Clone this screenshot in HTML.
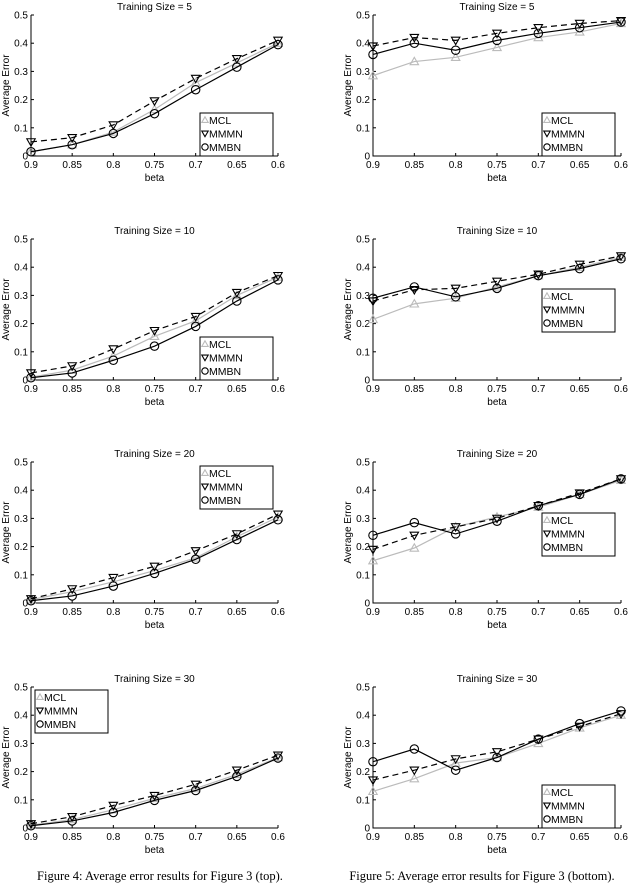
<!DOCTYPE html>
<html><head><meta charset="utf-8"><style>
body{margin:0;background:#fff}
svg{display:block;font-family:"Liberation Sans",sans-serif}
</style></head><body>
<svg id="fig" width="640" height="890" viewBox="0 0 640 890" xmlns="http://www.w3.org/2000/svg">
<text x="160" y="880" font-family="Liberation Serif,serif" font-size="12.5" text-anchor="middle">Figure 4: Average error results for Figure 3 (top).</text>
<text x="482" y="880" font-family="Liberation Serif,serif" font-size="12.5" text-anchor="middle">Figure 5: Average error results for Figure 3 (bottom).</text>
</svg>
<script>
const categories=[0.9,0.85,0.8,0.75,0.7,0.65,0.6];
const tickLabelsX=["0.9","0.85","0.8","0.75","0.7","0.65","0.6"];
const tickValuesY=[0,0.1,0.2,0.3,0.4,0.5];
const tickLabelsY=["0","0.1","0.2","0.3","0.4","0.5"];
const seriesNames=["MCL","MMMN","MMBN"];
const trainingSizes=[5,10,20,30];
// left column (Figure 4)
const L5_MCL=[.015,.04,.085,.165,.26,.33,.40];
const L5_MMMN=[.05,.065,.11,.195,.275,.345,.41];
const L5_MMBN=[.015,.04,.08,.15,.235,.315,.395];
const L10_MCL=[.01,.035,.085,.155,.21,.30,.365];
const L10_MMMN=[.025,.05,.11,.175,.225,.31,.37];
const L10_MMBN=[.008,.025,.07,.12,.19,.28,.355];
const L20_MCL=[.012,.04,.075,.115,.16,.235,.305];
const L20_MMMN=[.015,.05,.09,.13,.185,.245,.315];
const L20_MMBN=[.008,.025,.06,.105,.155,.225,.295];
const L30_MCL=[.01,.03,.065,.105,.14,.19,.25];
const L30_MMMN=[.015,.04,.08,.115,.155,.205,.258];
const L30_MMBN=[.008,.025,.055,.098,.133,.183,.248];
// right column (Figure 5)
const R5_MCL=[.285,.335,.35,.385,.42,.44,.47];
const R5_MMMN=[.39,.42,.41,.435,.455,.47,.48];
const R5_MMBN=[.36,.40,.375,.41,.435,.455,.475];
const R10_MCL=[.215,.27,.29,.33,.37,.40,.435];
const R10_MMMN=[.28,.32,.325,.35,.375,.41,.44];
const R10_MMBN=[.29,.33,.295,.325,.37,.395,.43];
const R20_MCL=[.15,.195,.27,.305,.34,.385,.435];
const R20_MMMN=[.19,.24,.27,.30,.345,.39,.44];
const R20_MMBN=[.24,.285,.245,.29,.345,.385,.44];
const R30_MCL=[.13,.175,.23,.25,.30,.355,.40];
const R30_MMMN=[.17,.205,.245,.27,.315,.36,.405];
const R30_MMBN=[.235,.28,.205,.25,.315,.37,.415];

const NS="http://www.w3.org/2000/svg";
const svg=document.getElementById('fig');
function mk(tag,attrs,parent){const e=document.createElementNS(NS,tag);for(const k in attrs)e.setAttribute(k,attrs[k]);(parent||svg).appendChild(e);return e;}

const tops=[15,239,462,687];
const cols=[{x0:31,x1:278,ylab:6,data:[[L5_MCL,L5_MMMN,L5_MMBN],[L10_MCL,L10_MMMN,L10_MMBN],[L20_MCL,L20_MMMN,L20_MMBN],[L30_MCL,L30_MMMN,L30_MMBN]],
  legends:[[200,113],[200,337],[200,466],[35,690]],side:'left'},
 {x0:373,x1:621,ylab:348,data:[[R5_MCL,R5_MMMN,R5_MMBN],[R10_MCL,R10_MMMN,R10_MMBN],[R20_MCL,R20_MMMN,R20_MMBN],[R30_MCL,R30_MMMN,R30_MMBN]],
  legends:[[542,113],[542,289],[542,513],[542,785]],side:'right'}];
const styles=[{stroke:'#bbb',dash:null,marker:'up'},{stroke:'#000',dash:'6,4',marker:'down'},{stroke:'#000',dash:null,marker:'circle'}];

function marker(g,type,cx,cy,color,r){
  r=r||4.2;
  if(type==='circle')return mk('circle',{cx:cx,cy:cy,r:r,fill:'none',stroke:color,'stroke-width':1.1},g);
  if(type==='up')return mk('polygon',{points:`${cx},${cy-r} ${cx-r},${cy+r*0.75} ${cx+r},${cy+r*0.75}`,fill:'none',stroke:color,'stroke-width':1.1},g);
  return mk('polygon',{points:`${cx},${cy+r} ${cx-r},${cy-r*0.75} ${cx+r},${cy-r*0.75}`,fill:'none',stroke:color,'stroke-width':1.1},g);
}

cols.forEach((c,ci)=>{
  tops.forEach((top,pi)=>{
    const bot=top+141;
    const xs=v=>c.x0+(0.9-v)/0.3*(c.x1-c.x0);
    const ys=v=>bot-v/0.5*141;
    const g=mk('g',{});
    
    
    const t=mk('text',{x:(c.x0+c.x1)/2,y:top-5,'font-size':10,'text-anchor':'middle'},g);
    t.textContent='Training Size = '+trainingSizes[pi];
    
    
    const ax=mk('path',{d:`M${c.x0},${top} V${bot} H${c.x1}`,fill:'none',stroke:'#000','stroke-width':1},g);
    
    
    categories.forEach((v,i)=>{
      const x=xs(v);
      mk('line',{x1:x,x2:x,y1:bot,y2:bot-3,stroke:'#000'},g);
      const tl=mk('text',{x:x,y:bot+12,'font-size':10,'text-anchor':'middle'},g);
      tl.textContent=tickLabelsX[i];
      
      
    });
    tickValuesY.forEach((v,i)=>{
      const y=ys(v);
      mk('line',{x1:c.x0,x2:c.x0+3,y1:y,y2:y,stroke:'#000'},g);
      const tl=mk('text',{x:c.x0-3,y:y+3.5,'font-size':10,'text-anchor':'end'},g);
      tl.textContent=tickLabelsY[i];
      
      
    });
    const xl=mk('text',{x:(c.x0+c.x1)/2,y:bot+25,'font-size':10,'text-anchor':'middle'},g);
    xl.textContent='beta';
    
    
    const yc=(top+bot)/2;
    const yl=mk('text',{x:c.ylab+3,y:yc,'font-size':10,'text-anchor':'middle',transform:`rotate(-90 ${c.ylab+3} ${yc})`},g);
    yl.textContent='Average Error';
    
    
    c.data[pi].forEach((arr,si)=>{
      const st=styles[si];
      const pts=arr.map((v,i)=>xs(categories[i])+','+ys(v)).join(' ');
      const pl=mk('polyline',{points:pts,fill:'none',stroke:st.stroke,'stroke-width':1.2},g);
      if(st.dash)pl.setAttribute('stroke-dasharray',st.dash);
      
      
      arr.forEach((v,i)=>{
        const m=marker(g,st.marker,xs(categories[i]),ys(v),st.stroke);
        
        
      });
    });
    const [lx,ly]=c.legends[pi];
    const lg=mk('g',{},g);
    
    
    mk('rect',{x:lx,y:ly,width:73,height:43,fill:'#fff',stroke:'#000','stroke-width':1},lg);
    seriesNames.forEach((n,si)=>{
      const yy=ly+7+si*13.5;
      marker(lg,styles[si].marker,lx+5,yy,styles[si].stroke,3.2);
      const lt=mk('text',{x:lx+9,y:yy+4,'font-size':10.5},lg);
      lt.textContent=n;
      
      
    });
  });
});
</script>
</body></html>
